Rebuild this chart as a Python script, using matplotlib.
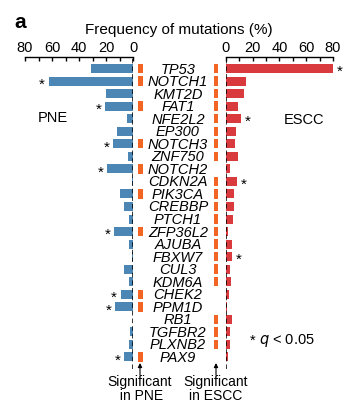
import numpy as np
import matplotlib.pyplot as plt

plt.rcParams['font.family'] = ['Liberation Sans', 'DejaVu Sans']

genes = ["TP53", "NOTCH1", "KMT2D", "FAT1", "NFE2L2", "EP300", "NOTCH3", "ZNF750",
         "NOTCH2", "CDKN2A", "PIK3CA", "CREBBP", "PTCH1", "ZFP36L2", "AJUBA", "FBXW7",
         "CUL3", "KDM6A", "CHEK2", "PPM1D", "RB1", "TGFBR2", "PLXNB2", "PAX9"]
pne = [31, 62.5, 20, 20.5, 4.4, 12, 14.5, 4, 19, 1, 9.5, 6.5, 3, 14, 3, 1,
       6.5, 3, 9, 13, 0, 2, 3, 6.5]
escc = [80, 15.5, 14, 9, 11.5, 7.7, 7, 9, 3, 8.5, 6, 6, 5.5, 1.5, 4.7, 4.7,
        3, 4, 2.5, 1, 4.7, 3, 3, 2]
# q < 0.05 stars
star_pne = ["NOTCH1", "FAT1", "NOTCH3", "NOTCH2", "ZFP36L2", "CHEK2", "PPM1D", "PAX9"]
star_escc = ["TP53", "NFE2L2", "CDKN2A", "FBXW7"]
# orange marks: significantly mutated gene in each cohort
sig_pne = ["TP53", "NOTCH1", "FAT1", "NOTCH3", "NOTCH2", "PIK3CA", "ZFP36L2",
           "CHEK2", "PPM1D", "PAX9"]
sig_escc = ["TP53", "NOTCH1", "KMT2D", "FAT1", "NFE2L2", "EP300", "NOTCH3", "ZNF750",
            "CDKN2A", "PIK3CA", "CREBBP", "PTCH1", "ZFP36L2", "AJUBA", "FBXW7", "CUL3",
            "KDM6A", "RB1", "TGFBR2", "PLXNB2"]
ticks = [0, 20, 40, 60, 80]

blue = "#4b86b4"
red = "#d93a3e"
orange = "#f26522"

W, H = 348, 410
fig = plt.figure(figsize=(W / 100, H / 100), dpi=100)

def box(x0, x1, y0=58, y1=370):
    return [x0 / W, 1 - y1 / H, (x1 - x0) / W, (y1 - y0) / H]

y = np.arange(len(genes))
ylim = (23.96, -0.92)
bh = 0.72

axl = fig.add_axes(box(25, 133))
axm = fig.add_axes(box(133, 225.7))
axr = fig.add_axes(box(225.7, 333))

for ax, vals, col in [(axl, pne, blue), (axr, escc, red)]:
    ax.barh(y, vals, height=bh, color=col)
    ax.set_xlim(0, 80)
    ax.set_ylim(*ylim)
    ax.axvline(0, color='k', lw=1.1, ls=(0, (3, 2)))
    for s in ['left', 'right', 'bottom']:
        ax.spines[s].set_visible(False)
    ax.spines['top'].set_linewidth(1.0)
    ax.xaxis.tick_top()
    ax.set_xticks(ticks)
    ax.set_xticks(np.arange(10, 80, 10), minor=True)
    ax.tick_params(axis='x', which='both', direction='in', length=3, width=1.0,
                   labelsize=10.5, pad=2)
    ax.set_yticks([])
axl.invert_xaxis()

for i, g in enumerate(genes):
    if g in star_pne:
        axl.text(pne[i] + 5, i + 0.2, "*", ha='center', va='center', fontsize=11)
    if g in star_escc:
        axr.text(escc[i] + 5, i + 0.2, "*", ha='center', va='center', fontsize=11)

# middle: gene names and significance marks
axm.set_xlim(0, 1)
axm.set_ylim(*ylim)
axm.axis('off')
sp = [i for i, g in enumerate(genes) if g in sig_pne]
se = [i for i, g in enumerate(genes) if g in sig_escc]
axm.barh(sp, 0.054, left=0.051, height=0.75, color=orange)
axm.barh(se, 0.048, left=0.872, height=0.75, color=orange)
for i, g in enumerate(genes):
    axm.text(0.485, i, g, ha='center', va='center', fontsize=10.5, style='italic')

fig.text(14 / W, 1 - 23 / H, "a", fontsize=15, fontweight='bold', va='center')
fig.text(179 / W, 1 - 30 / H, "Frequency of mutations (%)", fontsize=11,
         ha='center', va='center')
fig.text(53 / W, 1 - 118 / H, "PNE", fontsize=10.5, ha='center', va='center')
fig.text(304 / W, 1 - 120 / H, "ESCC", fontsize=10.5, ha='center', va='center')
fig.text(250 / W, 1 - 341 / H, "*", fontsize=10.5, ha='left', va='center')
fig.text(259 / W, 1 - 341 / H, "$q$ < 0.05", fontsize=10.5, ha='left', va='center')

for xc, lab in [(140, "Significant\n in PNE"), (216, "Significant\nin ESCC")]:
    fig.add_artist(plt.Annotation("", xy=(xc / W, 1 - 364 / H), xytext=(xc / W, 1 - 376 / H),
                                  xycoords='figure fraction',
                                  arrowprops=dict(arrowstyle='-|>', color='k', lw=0.8,
                                                  mutation_scale=6, shrinkA=0, shrinkB=0)))
    fig.text(xc / W, 1 - 389 / H, lab, fontsize=10, ha='center', va='center',
             linespacing=1.05)

plt.savefig("out.png", dpi=100)
